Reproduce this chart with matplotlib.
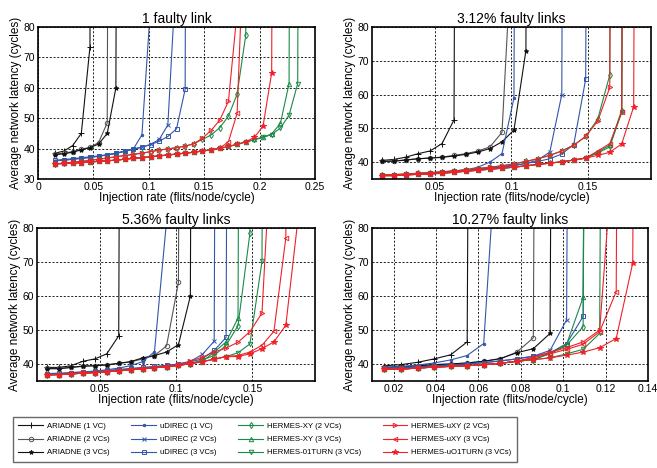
#!/usr/bin/env python3
import matplotlib
matplotlib.use('Agg')
import matplotlib.pyplot as plt
from matplotlib.ticker import FormatStrFormatter

plt.rcParams['font.family'] = ['Liberation Sans', 'DejaVu Sans']

# injection rates (flits/node/cycle); each series uses the first len(y) of them
rate = [0.0156, 0.0234, 0.0313, 0.0391, 0.0469, 0.0547, 0.0625, 0.0703,
        0.0781, 0.0859, 0.0938, 0.1016, 0.1094, 0.1172, 0.1250, 0.1328,
        0.1406, 0.1484, 0.1563, 0.1641, 0.1719, 0.1797, 0.1875, 0.1953,
        0.2031, 0.2109, 0.2188, 0.2266, 0.2344, 0.2422]
SAT = 1000  # saturated latency

names = ['ARIADNE (1 VC)', 'ARIADNE (2 VCs)', 'ARIADNE (3 VCs)',
         'uDIREC (1 VC)', 'uDIREC (2 VCs)', 'uDIREC (3 VCs)',
         'HERMES-XY (2 VCs)', 'HERMES-XY (3 VCs)', 'HERMES-01TURN (3 VCs)',
         'HERMES-uXY (2 VCs)', 'HERMES-uXY (3 VCs)', 'HERMES-uO1TURN (3 VCs)']

titles = ['1 faulty link', '3.12% faulty links', '5.36% faulty links', '10.27% faulty links']

lat_1link = [
    [38.5, 39.2, 41.0, 45.0, 73.5, SAT],
    [38.2, 38.5, 39.0, 39.8, 40.4, 42.0, 48.5, SAT],
    [38.0, 38.3, 38.8, 39.6, 40.3, 41.5, 45.0, 60.0, SAT],
    [36.0, 36.2, 36.5, 36.8, 37.1, 37.5, 37.9, 38.4, 39.1, 39.8, 44.5, 87, SAT],
    [36.0, 36.2, 36.5, 36.8, 37.1, 37.5, 37.9, 38.4, 39.1, 39.8, 40.4, 41.4, 43.0, 47.8, 100, SAT],
    [36.2, 36.4, 36.7, 37.0, 37.3, 37.6, 38.0, 38.5, 39.2, 39.9, 40.5, 41.3, 42.4, 44.0, 46.5, 59.5, SAT],
    [35.0, 35.2, 35.5, 35.8, 36.1, 36.5, 36.9, 37.3, 37.7, 38.1, 38.5, 39.0, 39.5, 39.9, 40.3, 40.8,
     41.6, 43.0, 44.5, 46.9, 50.7, 57.9, 77.3, SAT],
    [35.0, 35.1, 35.2, 35.4, 35.6, 35.8, 36.0, 36.2, 36.5, 36.8, 37.0, 37.3, 37.6, 37.9, 38.2, 38.5,
     38.8, 39.2, 39.6, 40.1, 40.7, 41.4, 42.2, 43.0, 43.8, 44.8, 48.3, 61.4, SAT],
    [35.0, 35.1, 35.2, 35.4, 35.6, 35.8, 36.0, 36.2, 36.5, 36.8, 37.0, 37.3, 37.6, 37.9, 38.2, 38.5,
     38.8, 39.2, 39.6, 40.1, 40.7, 41.4, 42.2, 42.9, 43.7, 44.6, 46.8, 51.0, 61.4, SAT],
    [35.0, 35.2, 35.5, 35.8, 36.1, 36.5, 36.9, 37.3, 37.7, 38.1, 38.5, 39.0, 39.5, 39.9, 40.3, 40.8,
     41.6, 43.4, 46.0, 49.4, 55.6, 85, SAT],
    [35.0, 35.1, 35.2, 35.4, 35.6, 35.8, 36.0, 36.2, 36.5, 36.8, 37.0, 37.3, 37.6, 37.9, 38.2, 38.5,
     38.8, 39.2, 39.6, 40.1, 42.3, 51.6, 125, SAT],
    [35.0, 35.1, 35.2, 35.4, 35.6, 35.8, 36.0, 36.2, 36.5, 36.8, 37.0, 37.3, 37.6, 37.9, 38.2, 38.5,
     38.8, 39.2, 39.6, 40.1, 40.7, 41.4, 42.2, 43.7, 47.4, 64.9, SAT],
]

lat_3pct = [
    [40.5, 40.8, 41.5, 42.5, 43.3, 45.5, 52.5, SAT],
    [40.3, 40.3, 40.7, 41.0, 41.2, 41.5, 42.0, 42.5, 43.3, 44.5, 48.8, 116, SAT],
    [40.2, 40.3, 40.6, 41.0, 41.2, 41.4, 41.8, 42.3, 43.0, 44.0, 46.0, 49.5, 73.0, SAT],
    [36.0, 36.1, 36.3, 36.5, 36.7, 37.0, 37.3, 37.7, 38.5, 40.0, 42.5, 59.0, SAT],
    [36.0, 36.1, 36.3, 36.5, 36.7, 37.0, 37.3, 37.6, 37.9, 38.2, 38.5, 38.9, 39.6, 40.6, 43.0, 60.0, SAT],
    [36.1, 36.2, 36.4, 36.6, 36.8, 37.1, 37.4, 37.7, 38.0, 38.3, 38.7, 39.1, 39.6, 40.2, 41.0, 42.4,
     45.2, 64.6, SAT],
    [36.2, 36.3, 36.5, 36.7, 36.9, 37.1, 37.4, 37.7, 38.1, 38.5, 38.9, 39.5, 40.2, 41.0, 42.0, 43.3,
     45.0, 47.6, 52.8, 65.8, SAT],
    [36.0, 36.0, 36.2, 36.4, 36.5, 36.7, 37.0, 37.3, 37.6, 37.9, 38.2, 38.5, 38.9, 39.3, 39.7, 40.1,
     40.6, 41.2, 43.0, 45.0, 55.4, SAT],
    [36.0, 36.0, 36.2, 36.4, 36.5, 36.7, 37.0, 37.3, 37.6, 37.9, 38.2, 38.5, 38.9, 39.3, 39.7, 40.1,
     40.6, 41.2, 42.7, 44.5, 54.8, SAT],
    [36.2, 36.3, 36.5, 36.7, 36.9, 37.1, 37.4, 37.7, 38.1, 38.5, 38.9, 39.5, 40.2, 41.0, 42.0, 43.3,
     45.0, 47.6, 52.2, 62.1, SAT],
    [36.0, 36.0, 36.2, 36.4, 36.5, 36.7, 37.0, 37.3, 37.6, 37.9, 38.2, 38.5, 38.9, 39.3, 39.7, 40.1,
     40.6, 41.2, 43.3, 45.5, 54.7, SAT],
    [36.0, 36.0, 36.2, 36.4, 36.5, 36.7, 37.0, 37.3, 37.6, 37.9, 38.2, 38.5, 38.9, 39.3, 39.7, 40.1,
     40.6, 41.2, 42.0, 42.9, 45.4, 56.4, SAT],
]

lat_5pct = [
    [39.0, 39.0, 39.5, 40.8, 41.5, 43.0, 48.3, SAT],
    [38.7, 38.7, 39.0, 39.3, 39.5, 39.8, 40.2, 40.6, 41.5, 42.5, 45.3, 64.0, SAT],
    [38.6, 38.6, 39.0, 39.4, 39.5, 39.7, 40.2, 40.7, 41.8, 42.5, 43.5, 45.7, 60.0, SAT],
    [37.0, 37.1, 37.3, 37.6, 37.9, 38.3, 38.8, 39.5, 40.7, 43.6, 82, SAT],
    [37.0, 37.1, 37.3, 37.5, 37.7, 37.9, 38.2, 38.5, 38.8, 39.1, 39.5, 40.0, 40.8, 42.8, 46.7, SAT],
    [37.2, 37.3, 37.5, 37.7, 37.9, 38.1, 38.4, 38.7, 39.0, 39.3, 39.6, 40.0, 40.6, 41.5, 44.0, 47.8, SAT],
    [36.8, 36.9, 37.1, 37.3, 37.5, 37.7, 38.0, 38.3, 38.6, 38.9, 39.2, 39.6, 40.1, 41.2, 42.5, 45.5,
     51.3, 78.5, SAT],
    [36.8, 36.9, 37.1, 37.3, 37.5, 37.7, 38.0, 38.3, 38.6, 38.9, 39.2, 39.6, 40.1, 40.7, 43.5, 46.5,
     53.5, SAT],
    [36.8, 36.9, 37.1, 37.3, 37.5, 37.7, 38.0, 38.3, 38.6, 38.9, 39.2, 39.6, 40.1, 40.7, 41.4, 42.2,
     43.3, 45.9, 70.2, SAT],
    [36.8, 36.9, 37.1, 37.3, 37.5, 37.7, 38.0, 38.3, 38.6, 38.9, 39.2, 39.6, 40.8, 42.0, 43.5, 44.7,
     46.4, 49.5, 55.0, 120, SAT],
    [36.8, 36.9, 37.1, 37.3, 37.5, 37.7, 38.0, 38.3, 38.6, 38.9, 39.2, 39.6, 40.1, 40.7, 41.4, 42.2,
     42.5, 43.5, 45.5, 49.6, 77.1, SAT],
    [36.8, 36.9, 37.1, 37.3, 37.5, 37.7, 38.0, 38.3, 38.6, 38.9, 39.2, 39.6, 40.1, 40.7, 41.4, 42.2,
     42.2, 43.0, 44.5, 46.5, 51.4, 82, SAT],
]

lat_10pct = [
    [39.5, 39.8, 40.5, 41.5, 42.7, 46.5, SAT],
    [39.0, 39.2, 39.5, 39.8, 40.0, 40.3, 40.8, 41.5, 43.5, 47.7, SAT],
    [39.0, 39.2, 39.5, 39.8, 40.0, 40.3, 40.8, 41.6, 43.3, 44.5, 49.0, SAT],
    [39.0, 39.2, 39.7, 40.3, 41.2, 42.5, 46.0, 122, SAT],
    [38.8, 38.9, 39.1, 39.4, 39.7, 40.0, 40.4, 40.9, 41.5, 42.3, 44.0, 53.0, SAT],
    [38.8, 38.9, 39.1, 39.4, 39.7, 40.0, 40.4, 40.9, 41.5, 42.3, 43.3, 46.0, 54.0, SAT],
    [38.5, 38.5, 38.8, 39.1, 39.3, 39.5, 39.8, 40.2, 40.8, 41.3, 43.0, 45.5, 51.0, SAT],
    [38.5, 38.5, 38.8, 39.1, 39.3, 39.5, 39.8, 40.2, 40.8, 41.3, 43.2, 45.8, 59.6, SAT],
    [38.5, 38.5, 38.8, 39.1, 39.3, 39.5, 39.8, 40.2, 40.8, 41.3, 41.8, 43.0, 44.3, 49.0, SAT],
    [38.5, 38.5, 38.8, 39.1, 39.3, 39.5, 39.8, 40.2, 40.8, 42.0, 43.5, 44.8, 46.5, 50.0, 115, SAT],
    [38.5, 38.5, 38.8, 39.1, 39.3, 39.5, 39.8, 40.2, 40.8, 41.8, 43.0, 44.3, 45.8, 49.5, 61.3, SAT],
    [38.5, 38.5, 38.8, 39.1, 39.3, 39.5, 39.8, 40.2, 40.8, 41.3, 41.8, 42.6, 43.5, 44.8, 47.5, 69.7, SAT],
]

panels = [lat_1link, lat_3pct, lat_5pct, lat_10pct]

# (color, marker, filled, size)
black, gray = '#111111', '#555555'
blue, green, red = '#3355aa', '#1b8a48', '#ee2228'
styles = [
    (black, '+', True, 4), (gray, 'o', False, 3.2), (black, '*', True, 3.3),
    (blue, '.', True, 3.5), (blue, 'x', True, 3), (blue, 's', False, 3),
    (green, 'd', False, 3.2), (green, '^', False, 3.2), (green, 'v', False, 3.2),
    (red, '>', False, 3.2), (red, '<', False, 3.2), (red, '*', True, 4),
]

xlims = [(0, 0.25), (0.009, 0.191), (0.009, 0.191), (0.0098, 0.14)]
xticks = [[0, 0.05, 0.1, 0.15, 0.2, 0.25], [0.05, 0.1, 0.15], [0.05, 0.1, 0.15],
          [0.02, 0.04, 0.06, 0.08, 0.1, 0.12, 0.14]]
ylims = [(30, 80), (35, 80), (35, 80), (35, 80)]

W, H = 657, 468
fig = plt.figure(figsize=(W / 100, H / 100), dpi=100)
# axes boxes in pixels: left, top, right, bottom
boxes = [(38, 27, 315, 179), (372, 27, 651, 179), (37, 228, 315, 381), (372, 228, 648, 381)]

handles = []
for i, box in enumerate(boxes):
    l, t, r, b = box
    ax = fig.add_axes([l / W, 1 - b / H, (r - l) / W, (b - t) / H])
    for j, ys in enumerate(panels[i]):
        c, m, filled, ms = styles[j]
        ln, = ax.plot(rate[:len(ys)], ys, color=c, lw=0.8, marker=m, ms=ms,
                      mfc=c if filled else 'none', mec=c, mew=0.7,
                      label=names[j])
        if i == 0:
            handles.append(ln)
    ax.set_xlim(*xlims[i])
    ax.set_ylim(*ylims[i])
    ax.set_xticks(xticks[i])
    ax.set_yticks([30, 40, 50, 60, 70, 80] if i == 0 else [40, 50, 60, 70, 80])
    ax.xaxis.set_major_formatter(FormatStrFormatter('%g'))
    ax.grid(True, color='black', ls=(0, (2.5, 2)), lw=0.6)
    ax.tick_params(direction='in', length=0, labelsize=7.5, pad=2)
    for s in ax.spines.values():
        s.set_linewidth(1.2)
    ax.set_title(titles[i], fontsize=10, pad=3)
    ax.set_xlabel('Injection rate (flits/node/cycle)', fontsize=8.5, labelpad=0)
    ax.set_ylabel('Average network latency (cycles)', fontsize=8.5, labelpad=1)

leg = fig.legend(handles=handles, loc='center', ncol=4, mode='expand',
                 bbox_to_anchor=(13 / W, 2 / H, 504 / W, 53 / H),
                 prop={'size': 5.6}, handlelength=3.2, handletextpad=0.5,
                 labelspacing=0.75, fancybox=False, borderpad=0.7, borderaxespad=0)
leg.get_frame().set_edgecolor('#444444')
leg.get_frame().set_linewidth(1.0)

plt.savefig('out.png', dpi=100)
print('wrote: out.png')
